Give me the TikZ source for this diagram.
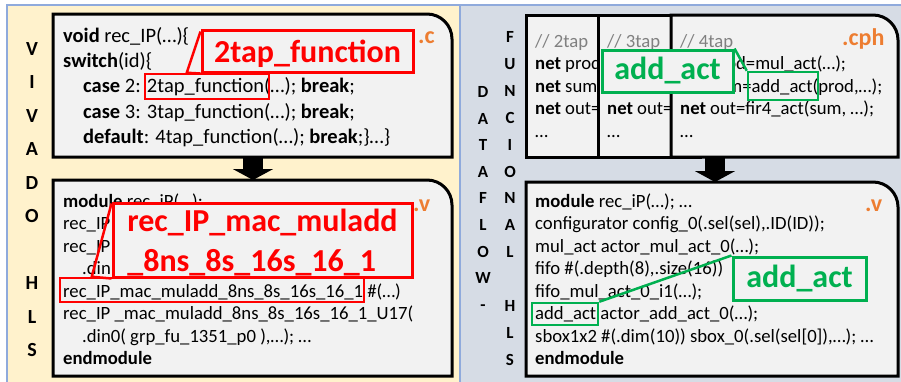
\documentclass[tikz,border=0pt]{standalone}
\usepackage{fontspec}
\setmainfont{Carlito}
\usetikzlibrary{arrows.meta,positioning}
\definecolor{hlsbg}{HTML}{FFF2CC}
\definecolor{dfbg}{HTML}{D6DCE5}
\definecolor{panelline}{HTML}{8FAADC}
\definecolor{codebg}{HTML}{F2F2F2}
\definecolor{calred}{HTML}{FF0000}
\definecolor{calgreen}{HTML}{00B050}
\definecolor{extorange}{HTML}{ED7D31}
\definecolor{comgray}{HTML}{808080}
\tikzset{%
	panel/.style      = {draw=panelline, line width=1.2pt},
	codebox/.style    = {draw, line width=3pt, fill=codebg},
	codeline/.style   = {anchor=base west, inner sep=0pt, font=\fontsize{18.7}{22}\selectfont},
	bigcodeline/.style = {codeline, font=\fontsize{20.5}{24}\selectfont},
	sidebig/.style    = {anchor=base, inner sep=0pt, font=\bfseries\fontsize{20}{20}\selectfont},
	sidesmall/.style  = {anchor=base, inner sep=0pt, font=\bfseries\fontsize{17}{17}\selectfont},
	ext/.style        = {anchor=base west, inner sep=0pt, text=extorange, font=\bfseries\fontsize{24}{24}\selectfont},
	markred/.style    = {draw=calred, line width=2.5pt, inner sep=0pt},
	markgreen/.style  = {draw=calgreen, line width=2.5pt, inner sep=0pt},
	callred/.style    = {draw=calred, line width=3pt, fill=codebg, text=calred, inner sep=0pt,
		font=\bfseries\fontsize{32}{40}\selectfont},
	callgreen/.style  = {draw=calgreen, line width=3pt, fill=codebg, text=calgreen, inner sep=0pt,
		font=\bfseries\fontsize{32}{40}\selectfont},
	pointred/.style   = {draw=calred, line width=2.5pt},
	pointgreen/.style = {draw=calgreen, line width=2.5pt},
	flowarrow/.style  = {line width=20pt, -{Triangle[width=40pt,length=11pt]}}
}
% box with one rounded corner (top right)
\newcommand{\cornerbox}[4]{%
	\draw[codebox] (#1,#4) -- (#1,#2) -- ({#3-25},#2)
	.. controls ({#3-11.2},#2) and (#3,{#2+11.2}) .. (#3,{#2+25}) -- (#3,#4) -- cycle;}

\begin{document}
\begin{tikzpicture}[x=1pt, y=-1pt]
	\useasboundingbox (0,0) rectangle (901,381);
	
	% panels
	\draw[panel, fill=hlsbg] (7,5) rectangle (460,390);
	\draw[panel, fill=dfbg] (460,5) rectangle (910,390);
	
	% side titles
	\foreach \l/\i in {V/0,I/1,V/2,A/3,D/4,O/5,H/7,L/8,S/9}
		\node[sidebig] (viv\i) at (32,{55+33.5*\i}) {\l};
	\foreach \l/\i in {D/0,A/1,T/2,A/3,F/4,L/5,O/6,W/7,-/8}
		\node[sidesmall] (dfl\i) at (483,{97.5+26.6*\i}) {\l};
	\foreach \l/\i in {F/0,U/1,N/2,C/3,I/4,O/5,N/6,A/7,L/8,H/10,L/11,S/12}
		\node[sidesmall] (fun\i) at (510,{42.5+26.9*\i}) {\l};
	
	% vivado hls: c source
	\cornerbox{53}{14}{452}{157}
	\foreach \t [count=\i from 0] in {%
		{\textbf{void} rec\_IP(…)\{},
		{\textbf{switch}(id)\{},
		{\hspace*{20pt}\textbf{case} 2: 2tap\_function(…); \textbf{break};},
		{\hspace*{20pt}\textbf{case} 3: 3tap\_function(…); \textbf{break};},
		{\hspace*{20pt}\textbf{default}: 4tap\_function(…); \textbf{break};\}…\}}}
		\node[bigcodeline] (cc\i) at (63,{42+25.4*\i}) {\t};
	\node[ext] (extc) at (418,43.3) {.c};
	
	% vivado hls: verilog
	\cornerbox{53}{180}{452}{376}
	\foreach \t [count=\i from 0] in {%
		{\textbf{module} rec\_iP(…);},
		{rec\_IP},
		{rec\_IP},
		{\hspace*{19pt}.din},
		{rec\_IP\_mac\_muladd\_8ns\_8s\_16s\_16\_1 \#(…)},
		{rec\_IP \_mac\_muladd\_8ns\_8s\_16s\_16\_1\_U17(},
		{\hspace*{19pt}.din0( grp\_fu\_1351\_p0 ),…); …},
		{\textbf{endmodule}}}
		\node[codeline] (vv\i) at (63,{207+22.57*\i}) {\t};
	\node[ext] (extv) at (413,211.7) {.v};
	
	\coordinate (ulout) at (253,157);
	\coordinate (llin) at (253,180);
	\draw[flowarrow] (ulout) -- (llin);
	
	% dataflow: actors
	\draw[codebox] (526,15) rectangle (640,157);
	\foreach \t [count=\i from 0] in {%
		{\textcolor{comgray}{// 2tap}},
		{\textbf{net} prod},
		{\textbf{net} sum},
		{\textbf{net} out=},
		{…}}
		\node[codeline] (ta\i) at (535,{47+22.5*\i}) {\t};
	\draw[codebox] (598,15) rectangle (700,157);
	\node[codeline] (tb0) at (607,47) {\textcolor{comgray}{// 3tap}};
	\node[codeline] (tb3) at (607,114.5) {\textbf{net} out=};
	\node[codeline] (tb4) at (607,137) {…};
	\cornerbox{671}{15}{898}{157}
	\foreach \t [count=\i from 0] in {%
		{\textcolor{comgray}{// 4tap}},
		{\textbf{net} prod=mul\_act(…);},
		{\textbf{net} sum=add\_act(prod,…);},
		{\textbf{net} out=fir4\_act(sum, …);},
		{…}}
		\node[codeline] (tc\i) at (680,{47+22.5*\i}) {\t};
	\node[ext] (extcph) at (842,45) {.cph};
	
	% dataflow: verilog
	\cornerbox{526}{182}{898}{376}
	\foreach \t [count=\i from 0] in {%
		{\textbf{module} rec\_iP(…); …},
		{configurator config\_0(.sel(sel),.ID(ID));},
		{mul\_act actor\_mul\_act\_0(…);},
		{fifo \#(.depth(8),.size(16))},
		{fifo\_mul\_act\_0\_i1(…);},
		{add\_act actor\_add\_act\_0(…);},
		{sbox1x2 \#(.dim(10)) sbox\_0(.sel(sel[0]),…); …},
		{\textbf{endmodule}}}
		\node[codeline] (dv\i) at (535,{207+22.57*\i}) {\t};
	\node[ext] (extv2) at (865,211.7) {.v};
	
	\coordinate (urout) at (715,157);
	\coordinate (lrin) at (715,182);
	\draw[flowarrow] (urout) -- (lrin);
	
	% highlights and callouts
	\node[markred, minimum width=124pt, minimum height=25pt] (h2tap) at (207,86.5) {};
	\node[markred, minimum width=304pt, minimum height=24pt] (hmuladd) at (212,290) {};
	\node[markgreen, minimum width=70pt, minimum height=28pt] (haddup) at (783,86) {};
	\node[markgreen, minimum width=66pt, minimum height=22pt] (haddlow) at (565,314) {};
	
	\node[callred, minimum width=211pt, minimum height=42pt] (c2tap) at (307.5,51)
		{\rule{0pt}{28.5pt}2tap\_function};
	\node[callred, minimum width=299pt, minimum height=74pt, align=left] (cmuladd) at (262.5,240)
		{rec\_IP\_mac\_muladd\\\raisebox{0pt}[\height][0pt]{\_8ns\_8s\_16s\_16\_1}};
	\node[callgreen, minimum width=131pt, minimum height=42pt] (caddup) at (667.5,71) {add\_act};
	\node[callgreen, minimum width=133pt, minimum height=43pt] (caddlow) at (799.5,278.5) {add\_act};
	
	\draw[pointred] ([yshift=-3pt]c2tap.north west) -- ([xshift=43pt]h2tap.north west) -- (c2tap.south west);
	\draw[pointred] ([yshift=-2pt]cmuladd.north west) -- ([xshift=33pt]hmuladd.north west) -- (cmuladd.south west);
	\draw[pointgreen] (caddup.north east) -- (haddup.north west);
	\draw[pointgreen] (haddlow.north east) -- (caddlow.north west);
\end{tikzpicture}
\end{document}
